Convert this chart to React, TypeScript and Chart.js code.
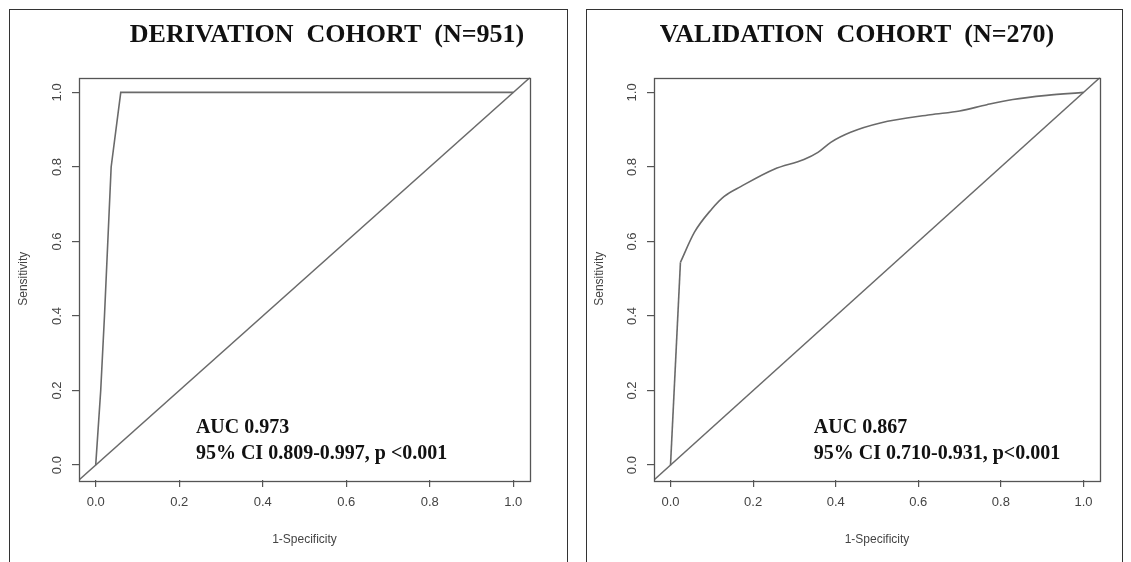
import React, { useEffect, useRef } from "react";
import { Chart, registerables } from "chart.js";

Chart.register(...registerables);

// ---- shared axis data ----
const tickValues = [0, 0.2, 0.4, 0.6, 0.8, 1.0];
const tickLabels = ["0.0", "0.2", "0.4", "0.6", "0.8", "1.0"];
const axisMin = -0.04;
const axisMax = 1.04;
const xAxisTitle = "1-Specificity";
const yAxisTitle = "Sensitivity";
const diagX = [-0.04, 1.04];
const diagY = [-0.04, 1.04];

// ---- derivation cohort ----
const derivTitle = "DERIVATION  COHORT  (N=951)";
const derivFpr = [0, 0.012, 0.021, 0.029, 0.037, 0.06, 1.0];
const derivTpr = [0, 0.2, 0.4, 0.6, 0.8, 1.0, 1.0];
const derivNote = ["AUC 0.973", "95% CI 0.809-0.997, p <0.001"];
const derivNoteX = 0.24;
const derivNoteY = [0.1, 0.03];

// ---- validation cohort ----
const valTitle = "VALIDATION  COHORT  (N=270)";
const valFprStart = [0, 0.024];
const valTprStart = [0, 0.544];
const valFpr = [0.024, 0.058, 0.099, 0.13, 0.171, 0.251, 0.323, 0.357, 0.388, 0.436, 0.508, 0.629, 0.7, 0.766, 0.829, 0.911, 1.0];
const valTpr = [0.544, 0.625, 0.686, 0.721, 0.748, 0.794, 0.82, 0.839, 0.866, 0.893, 0.918, 0.94, 0.95, 0.967, 0.981, 0.992, 1.0];
const valNote = ["AUC 0.867", "95% CI 0.710-0.931, p<0.001"];
const valNoteX = 0.347;
const valNoteY = [0.1, 0.03];

const curveColor = "#6a6a6a";
const axisColor = "#555555";
const labelColor = "#444444";
const sans = "'Liberation Sans', Arial, sans-serif";
const serif = "'Liberation Serif', 'Times New Roman', serif";

type PanelSpec = {
  left: number;
  width: number;
  yAxisWidth: number;
  padRight: number;
  titleText: string;
  titleX: number;
  series: { x: number[]; y: number[]; smooth: boolean }[];
  note: string[];
  noteX: number;
  noteY: number[];
};

const toPoints = (xs: number[], ys: number[]) => xs.map((x, i) => ({ x, y: ys[i] }));

function makeChart(canvas: HTMLCanvasElement, p: PanelSpec) {
  const boxPlugin = {
    id: "rbox",
    afterDatasetsDraw(chart: any) {
      const { ctx, chartArea: a } = chart;
      ctx.save();
      ctx.strokeStyle = axisColor;
      ctx.lineWidth = 1.3;
      ctx.strokeRect(Math.round(a.left) + 0.5, Math.round(a.top) + 0.5, Math.round(a.right - a.left), Math.round(a.bottom - a.top));
      ctx.restore();
    },
  };
  const textPlugin = {
    id: "rtext",
    afterDraw(chart: any) {
      const { ctx } = chart;
      const xs = chart.scales.x;
      const ys = chart.scales.y;
      ctx.save();
      ctx.fillStyle = "#111111";
      ctx.textBaseline = "middle";
      ctx.textAlign = "center";
      ctx.font = `bold 26px ${serif}`;
      ctx.fillText(p.titleText, p.titleX, 35);
      ctx.textAlign = "left";
      ctx.font = `bold 20px ${serif}`;
      p.note.forEach((t, i) => {
        ctx.fillText(t, xs.getPixelForValue(p.noteX), ys.getPixelForValue(p.noteY[i]));
      });
      ctx.restore();
    },
  };

  const datasets: any[] = p.series.map((s) => ({
    data: toPoints(s.x, s.y),
    showLine: true,
    borderColor: curveColor,
    borderWidth: 1.6,
    pointRadius: 0,
    cubicInterpolationMode: s.smooth ? "monotone" : "default",
    tension: s.smooth ? 0.4 : 0,
  }));
  datasets.push({
    data: toPoints(diagX, diagY),
    showLine: true,
    borderColor: curveColor,
    borderWidth: 1.4,
    pointRadius: 0,
    tension: 0,
  });

  const common = (title: string, isY: boolean) => ({
    type: "linear",
    min: axisMin,
    max: axisMax,
    afterBuildTicks: (s: any) => {
      s.ticks = tickValues.map((value) => ({ value }));
    },
    grid: {
      display: true,
      drawOnChartArea: false,
      drawTicks: true,
      tickLength: 7,
      color: axisColor,
      lineWidth: 1.2,
    },
    border: { display: false },
    ticks: {
      autoSkip: false,
      callback: (_v: any, i: number) => tickLabels[i],
      font: { family: sans, size: 13 },
      color: labelColor,
      padding: isY ? 6 : 8,
      ...(isY ? { minRotation: 90, maxRotation: 90, crossAlign: "center" } : { maxRotation: 0 }),
    },
    title: {
      display: true,
      text: title,
      font: { family: sans, size: 12 },
      color: labelColor,
      padding: isY ? { top: 16, bottom: 0 } : { top: 0, bottom: 15 },
    },
  });

  return new Chart(canvas, {
    type: "scatter",
    data: { datasets },
    options: {
      animation: false,
      responsive: false,
      maintainAspectRatio: false,
      layout: { padding: { left: 0, top: 77.5, right: p.padRight, bottom: 0 } },
      plugins: { legend: { display: false }, tooltip: { enabled: false }, title: { display: false } },
      scales: {
        x: { ...common(xAxisTitle, false), position: "bottom", afterFit: (s: any) => { s.height = 82; } },
        y: { ...common(yAxisTitle, true), position: "left", afterFit: (s: any) => { s.width = p.yAxisWidth; } },
      },
    } as any,
    plugins: [boxPlugin, textPlugin],
  });
}

function Panel({ spec }: { spec: PanelSpec }) {
  const ref = useRef<HTMLCanvasElement | null>(null);
  useEffect(() => {
    if (!ref.current) return;
    const chart = makeChart(ref.current, spec);
    return () => chart.destroy();
  }, [spec]);
  return (
    <canvas
      ref={ref}
      width={spec.width}
      height={562}
      style={{ position: "absolute", left: spec.left, top: 0, width: spec.width, height: 562, display: "block" }}
    />
  );
}

const leftSpec: PanelSpec = {
  left: 0,
  width: 576,
  yAxisWidth: 79,
  padRight: 46,
  titleText: derivTitle,
  titleX: 327,
  series: [{ x: derivFpr, y: derivTpr, smooth: false }],
  note: derivNote,
  noteX: derivNoteX,
  noteY: derivNoteY,
};

const rightSpec: PanelSpec = {
  left: 576,
  width: 555,
  yAxisWidth: 78,
  padRight: 31,
  titleText: valTitle,
  titleX: 281,
  series: [
    { x: valFprStart, y: valTprStart, smooth: false },
    { x: valFpr, y: valTpr, smooth: true },
  ],
  note: valNote,
  noteX: valNoteX,
  noteY: valNoteY,
};

export default function App() {
  const frame = (left: number, width: number): React.CSSProperties => ({
    position: "absolute",
    left,
    top: 9,
    width,
    height: 600,
    boxSizing: "border-box",
    borderLeft: "1.5px solid #333",
    borderTop: "1.5px solid #333",
    borderRight: "1.5px solid #333",
  });
  return (
    <div style={{ position: "fixed", left: 0, top: 0, width: 1131, height: 562, overflow: "hidden", background: "#ffffff" }}>
      <div style={frame(9, 559)} />
      <div style={frame(586, 537)} />
      <Panel spec={leftSpec} />
      <Panel spec={rightSpec} />
    </div>
  );
}
